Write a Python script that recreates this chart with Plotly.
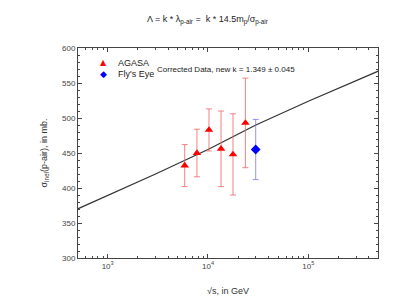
import plotly.graph_objects as go

# --- data ---
agasa_sqrt_s = [5860, 7760, 10230, 13490, 17750, 23600]
agasa_sigma = [432, 450, 483, 456, 448, 493]
agasa_err = [30, 34, 30, 54, 58, 64]

fly_sqrt_s = [29900]
fly_sigma = [455]
fly_err = [43]

fit_sqrt_s = [500, 1000, 3000, 10000, 30000, 100000, 500000]
fit_sigma = [370, 389, 420, 455, 490, 524, 567]

x_tickvals = [1e3, 1e4, 1e5]
x_ticktext = ["10<sup>3</sup>", "10<sup>4</sup>", "10<sup>5</sup>"]
y_tickvals = [300, 350, 400, 450, 500, 550, 600]

FONT = "Liberation Sans, Arial, sans-serif"

fig = go.Figure()
fig.add_trace(go.Scatter(
    x=fit_sqrt_s, y=fit_sigma, mode="lines",
    line=dict(color="#333333", width=1.2), showlegend=False, hoverinfo="skip"))
fig.add_trace(go.Scatter(
    x=agasa_sqrt_s, y=agasa_sigma, mode="markers", name="AGASA",
    marker=dict(symbol="triangle-up", color="red", size=7.5),
    error_y=dict(type="data", array=agasa_err, color="rgba(240,100,100,0.8)",
                 thickness=1, width=3),
    showlegend=False))
fig.add_trace(go.Scatter(
    x=fly_sqrt_s, y=fly_sigma, mode="markers", name="Fly's Eye",
    marker=dict(symbol="diamond", color="blue", size=7.5),
    error_y=dict(type="data", array=fly_err, color="rgba(120,120,255,0.8)",
                 thickness=1, width=3),
    showlegend=False))

axis_common = dict(
    showline=True, linecolor="#444444", linewidth=1, mirror="ticks",
    ticks="inside", tickcolor="#444444", ticklen=4, showgrid=False,
    zeroline=False, tickfont=dict(family=FONT, size=8, color="#444444"))

fig.update_xaxes(
    type="log", range=[2.704, 5.695], tickvals=x_tickvals, ticktext=x_ticktext,
    minor=dict(ticks="inside", ticklen=2, dtick="D1", tickcolor="#444444", showgrid=False),
    title=dict(text="√s, in GeV", font=dict(family=FONT, size=9, color="#333333"), standoff=18),
    **axis_common)
fig.update_yaxes(
    range=[300, 600], tickvals=y_tickvals,
    minor=dict(ticks="inside", ticklen=2, dtick=10, tickcolor="#444444", showgrid=False),
    title=dict(text="σ<sub>inel</sub>(p-air), in mb.", font=dict(family=FONT, size=9, color="#333333"), standoff=12),
    **axis_common)

annotations = [
    dict(text="Λ = k * λ<sub>p-air</sub> =  k * 14.5m<sub>p</sub>/σ<sub>p-air</sub>",
         xref="paper", yref="paper", x=0.43, y=1.0, xanchor="center", yanchor="middle",
         yshift=28, showarrow=False,
         font=dict(family=FONT, size=9, color="#222222")),
    dict(text="▲", xref="paper", yref="paper", x=0.084, y=0.93,
         xanchor="center", yanchor="middle", showarrow=False,
         font=dict(family="DejaVu Sans", size=8, color="red")),
    dict(text="◆", xref="paper", yref="paper", x=0.084, y=0.876,
         xanchor="center", yanchor="middle", showarrow=False,
         font=dict(family="DejaVu Sans", size=9, color="blue")),
    dict(text="AGASA", xref="paper", yref="paper", x=0.127, y=0.927,
         xanchor="left", yanchor="middle",
         showarrow=False, font=dict(family=FONT, size=9, color="#222222")),
    dict(text="Fly's Eye", xref="paper", yref="paper", x=0.127, y=0.875,
         xanchor="left", yanchor="middle",
         showarrow=False, font=dict(family=FONT, size=9, color="#222222")),
    dict(text="Corrected Data, new k = 1.349 ± 0.045", xref="paper", yref="paper",
         x=0.257, y=0.9, xanchor="left", yanchor="middle", showarrow=False,
         font=dict(family=FONT, size=8, color="#222222")),
]

fig.update_layout(
    width=415, height=304, margin=dict(l=70, r=45, t=40, b=54),
    paper_bgcolor="white", plot_bgcolor="white",
    annotations=annotations, showlegend=False,
    font=dict(family=FONT, color="#333333"))

fig.write_html("out.html")
